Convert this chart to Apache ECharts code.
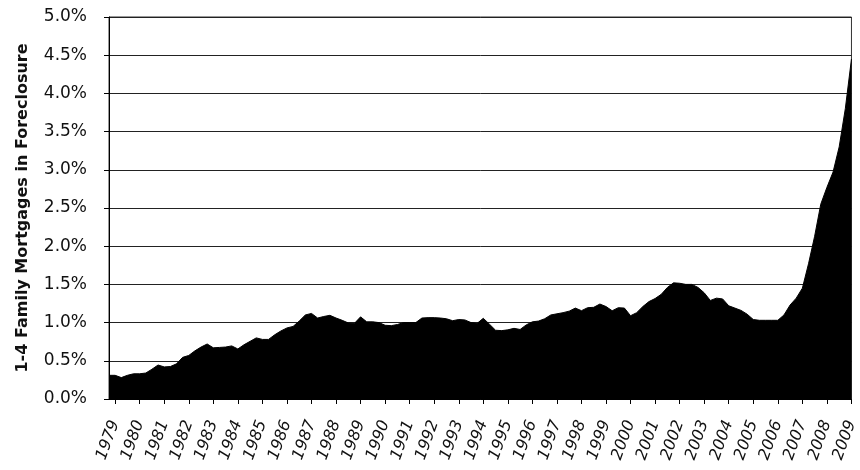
<!DOCTYPE html>
<html lang="en">
<head>
<meta charset="UTF-8">
<title>1-4 Family Mortgages in Foreclosure</title>
<style>
    body { margin: 0; padding: 0; background: #fff; }
    #chart { width: 860px; height: 470px; }
</style>
</head>
<body>
<script src="https://cdn.jsdelivr.net/npm/echarts@6/dist/echarts.min.js"></script>
<div id="chart"></div>
<script>
// year labels on the x axis (one tick per year, data is quarterly)
var yearLabels = ['1979', '1980', '1981', '1982', '1983', '1984', '1985', '1986', '1987', '1988',
    '1989', '1990', '1991', '1992', '1993', '1994', '1995', '1996', '1997', '1998',
    '1999', '2000', '2001', '2002', '2003', '2004', '2005', '2006', '2007', '2008', '2009'];

// share of 1-4 family mortgages in foreclosure, %, 1978 Q4 .. 2009 Q1
var foreclosure = [
    0.31, 0.31, 0.28, 0.31, 0.33, 0.33, 0.34, 0.39, 0.445, 0.42,
    0.425, 0.46, 0.545, 0.57, 0.63, 0.68, 0.72, 0.67, 0.675, 0.68,
    0.695, 0.655, 0.71, 0.755, 0.80, 0.78, 0.78, 0.84, 0.89, 0.93,
    0.95, 1.02, 1.10, 1.12, 1.06, 1.08, 1.095, 1.06, 1.03, 0.995,
    0.99, 1.075, 1.01, 1.01, 1.0, 0.965, 0.96, 0.975, 1.0, 1.0,
    1.0, 1.06, 1.065, 1.065, 1.06, 1.05, 1.025, 1.04, 1.035, 1.0,
    0.99, 1.056, 0.98, 0.90, 0.895, 0.905, 0.925, 0.91, 0.97, 1.01,
    1.02, 1.05, 1.10, 1.115, 1.13, 1.15, 1.19, 1.156, 1.195, 1.20,
    1.243, 1.21, 1.155, 1.195, 1.19, 1.09, 1.13, 1.21, 1.275, 1.315,
    1.37, 1.46, 1.52, 1.515, 1.50, 1.50, 1.46, 1.39, 1.29, 1.32,
    1.31, 1.22, 1.19, 1.16, 1.11, 1.04, 1.03, 1.03, 1.03, 1.03,
    1.10, 1.23, 1.32, 1.45, 1.77, 2.13, 2.55, 2.77, 2.97, 3.30,
    3.80, 4.45
];

// quarterly categories: 1978 Q4, then Q1..Q4 of each year, ending 2009 Q1
var quarters = ['1978 Q4'];
for (var y = 0; y < yearLabels.length; y++) {
    for (var q = 1; q <= 4; q++) {
        quarters.push(yearLabels[y] + ' Q' + q);
        if (y === yearLabels.length - 1) break;
    }
}

var isYearStart = function (index) { return index % 4 === 1; };
var fontName = 'DejaVu Sans';

var myChart = echarts.init(document.getElementById('chart'));

var option = {
    animation: false,
    grid: {
        left: 109,
        right: 8,
        top: 17,
        bottom: 71,
        show: true,
        borderColor: '#333',
        borderWidth: 1
    },
    xAxis: {
        type: 'category',
        data: quarters,
        boundaryGap: false,
        axisLine: { lineStyle: { color: '#000', width: 1 } },
        axisTick: {
            interval: isYearStart,
            length: 5,
            lineStyle: { color: '#000' }
        },
        axisLabel: {
            interval: isYearStart,
            rotate: 70,
            margin: 22,
            color: '#111',
            fontFamily: fontName,
            fontStyle: 'italic',
            fontSize: 16,
            formatter: function (v) { return v.slice(0, 4); }
        },
        splitLine: { show: false }
    },
    yAxis: {
        type: 'value',
        min: 0,
        max: 5,
        interval: 0.5,
        name: '1-4 Family Mortgages in Foreclosure',
        nameLocation: 'middle',
        nameRotate: 90,
        nameGap: 78,
        nameTextStyle: {
            color: '#111',
            fontFamily: fontName,
            fontSize: 16,
            fontWeight: 'bold'
        },
        axisLine: { show: true, lineStyle: { color: '#000', width: 1 } },
        axisTick: { show: true, length: 5, lineStyle: { color: '#000' } },
        axisLabel: {
            margin: 22,
            color: '#111',
            fontFamily: fontName,
            fontSize: 17,
            formatter: function (v) { return v.toFixed(1) + '%'; }
        },
        splitLine: { lineStyle: { color: '#222', width: 1 } }
    },
    series: [{
        name: 'In foreclosure',
        type: 'line',
        data: foreclosure,
        symbol: 'none',
        smooth: false,
        lineStyle: { color: '#000', width: 1 },
        areaStyle: { color: '#000', opacity: 1 },
        z: 3
    }]
};

myChart.setOption(option);
</script>
</body>
</html>
